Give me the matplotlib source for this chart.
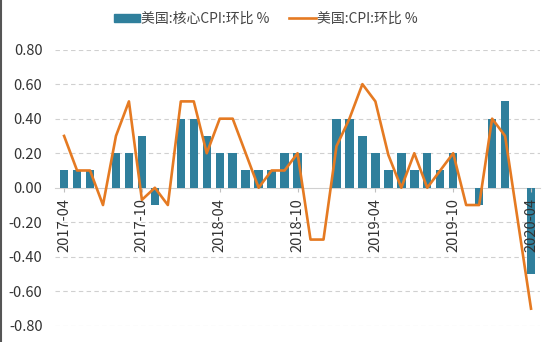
import numpy as np
import matplotlib
import matplotlib.pyplot as plt
from matplotlib.lines import Line2D

matplotlib.use("Agg")
plt.rcParams['font.family'] = ['Noto Sans CJK SC', 'DejaVu Sans']

# --- Data (2017-04 .. 2020-04, monthly) ---
months = [f"{y}-{m:02d}" for y in range(2017, 2021) for m in range(1, 13)]
months = months[months.index("2017-04"):months.index("2020-04") + 1]

core_cpi = [0.1, 0.1, 0.1, 0.0, 0.2, 0.2, 0.3, -0.1, 0.0,
            0.4, 0.4, 0.3, 0.2, 0.2, 0.1, 0.1, 0.1, 0.2,
            0.2, 0.0, 0.0, 0.4, 0.4, 0.3, 0.2, 0.1, 0.2,
            0.1, 0.2, 0.1, 0.2, 0.0, -0.1, 0.4, 0.5, 0.0, -0.5]
cpi = [0.3, 0.1, 0.1, -0.1, 0.3, 0.5, -0.07, 0.0, -0.1,
       0.5, 0.5, 0.2, 0.4, 0.4, 0.2, 0.0, 0.1, 0.1,
       0.2, -0.3, -0.3, 0.24, 0.4, 0.6, 0.5, 0.19, 0.0,
       0.2, 0.0, 0.1, 0.2, -0.1, -0.1, 0.4, 0.3, -0.2, -0.7]

tick_labels = ["2017-04", "2017-10", "2018-04", "2018-10", "2019-04", "2019-10", "2020-04"]
yticks = [-0.8, -0.6, -0.4, -0.2, 0.0, 0.2, 0.4, 0.6, 0.8]

bar_color = "#2f7f9c"
line_color = "#e57a22"
FS = 10.5

fig = plt.figure(figsize=(5.5, 3.42), dpi=100)
ax = fig.add_axes([0.1, 0.047, 0.882, 0.808])

x = np.arange(len(months))
ax.bar(x, core_cpi, width=0.65, color=bar_color, zorder=1)
ax.plot(x, cpi, color=line_color, linewidth=1.9, zorder=3)

ax.set_xlim(-0.7, len(months) - 0.3)
ax.set_ylim(-0.8, 0.8)
ax.set_yticks(yticks)
ax.set_yticklabels([f"{v:.2f}" for v in yticks])
ax.tick_params(axis='y', length=0, pad=9, labelsize=FS, labelcolor="#333333")

for v in yticks:
    if v != 0:
        ax.axhline(v, color="#d0d0d0", linewidth=0.8, linestyle=(0, (4, 3)), zorder=0)

for s in ["top", "right", "left"]:
    ax.spines[s].set_visible(False)
ax.spines["bottom"].set_position(("data", 0))
ax.spines["bottom"].set_color("#d0d0d0")
ax.spines["bottom"].set_zorder(0.5)

ax.set_xticks([months.index(t) for t in tick_labels])
ax.set_xticklabels(tick_labels, rotation=90, fontsize=FS, color="#333333")
ax.tick_params(axis='x', length=3, color="#c0c0c0", pad=4.5)
for lbl in ax.get_xticklabels():
    lbl.set_zorder(4)

handles = [plt.Rectangle((0, 0), 1, 1, color=bar_color),
           Line2D([0], [0], color=line_color, linewidth=1.9)]
fig.legend(handles, ["美国:核心CPI:环比 %", "美国:CPI:环比 %"],
           loc="center", bbox_to_anchor=(0.483, 0.945), ncol=2, frameon=False,
           fontsize=10, handlelength=1.9, handleheight=0.6, columnspacing=1.4,
           handletextpad=0.1, labelcolor="#444444")

fig.add_artist(Line2D([0.002, 0.002], [0, 1], color="#555555", linewidth=1.5))

fig.savefig("out.png", dpi=100)
